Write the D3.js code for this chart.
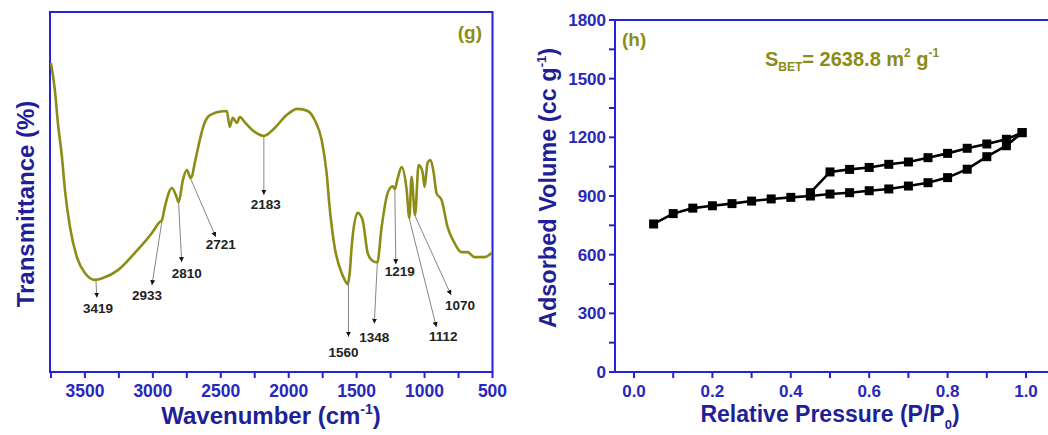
<!DOCTYPE html>
<html>
<head>
<meta charset="utf-8">
<script src="https://cdn.jsdelivr.net/npm/d3@7/dist/d3.min.js"></script>
<style>
  body { margin: 0; background: #fff; }
  svg text { font-family: "Liberation Sans", Arial, sans-serif; font-weight: bold; }
</style>
</head>
<body>
<svg id="chart" width="1048" height="435"></svg>
<script>
// (g) FTIR spectrum
const ftirWavenumber = [3750, 3721, 3699, 3669, 3647, 3610, 3559, 3500, 3426, 3368, 3257, 3132, 3007, 2949, 2933,
  2912, 2860, 2831, 2810, 2779, 2750, 2721, 2684, 2654, 2630, 2596, 2559, 2522, 2456, 2434, 2412, 2382, 2360,
  2324, 2250, 2183, 2103, 2015, 1934, 1860, 1809, 1757, 1721, 1699, 1662, 1610, 1588, 1566, 1551, 1537, 1493,
  1456, 1419, 1390, 1348, 1316, 1272, 1235, 1219, 1200, 1169, 1132, 1112, 1096, 1070, 1044, 1015, 1000, 978,
  956, 934, 912, 875, 831, 779, 728, 684, 632, 559, 507];
const ftirTransmittance = [85.8, 78.3, 69.2, 59.7, 50.6, 40.3, 31.9, 27.5, 25.6, 26.1, 28.3, 33.1, 38.6, 41.7, 42.2,
  45.8, 51.1, 49.2, 47.2, 53.3, 56.1, 53.9, 59.4, 64.5, 68.0, 70.8, 71.7, 72.2, 72.5, 68.1, 70.6, 69.2, 70.8,
  69.4, 66.7, 65.6, 67.8, 71.4, 73.1, 72.5, 70.0, 64.4, 55.3, 45.8, 34.7, 27.5, 25.6, 24.4, 27.5, 34.7, 44.2,
  42.2, 33.1, 31.1, 30.4, 40.3, 49.7, 51.6, 50.8, 53.5, 56.9, 50.6, 42.8, 54.2, 43.6, 57.5, 55.6, 51.4, 58.1,
  58.9, 55.6, 49.7, 47.8, 40.3, 35.8, 33.3, 33.3, 31.9, 31.9, 33.1];
const ftirTicks = [3500, 3000, 2500, 2000, 1500, 1000, 500];
const peakLabels = [3419, 2933, 2810, 2721, 2183, 1560, 1348, 1219, 1112, 1070];

// (h) N2 isotherm
const adsPressure = [0.05, 0.10, 0.15, 0.20, 0.25, 0.30, 0.35, 0.40, 0.45, 0.50, 0.55, 0.60, 0.65, 0.70,
  0.75, 0.80, 0.85, 0.90, 0.95, 0.99];
const adsVolume = [757, 810, 838, 850, 861, 874, 885, 893, 900, 910, 917, 927, 936, 951, 968, 994, 1037, 1101, 1157, 1224];
const desPressure = [0.99, 0.95, 0.90, 0.85, 0.80, 0.75, 0.70, 0.65, 0.60, 0.55, 0.50, 0.45];
const desVolume = [1224, 1190, 1166, 1144, 1118, 1096, 1074, 1062, 1046, 1036, 1023, 917];
const betXTicks = [0.0, 0.2, 0.4, 0.6, 0.8, 1.0];
const betYTicks = [0, 300, 600, 900, 1200, 1500, 1800];

const frameBlue = "#2323d9", tickBlue = "#2828bb", titleBlue = "#1f1f98", olive = "#8c8c16";

const svg = d3.select("#chart");

svg.append("defs").append("marker")
  .attr("id", "arrow")
  .attr("viewBox", "0 0 10 10")
  .attr("refX", 10).attr("refY", 5)
  .attr("markerWidth", 5).attr("markerHeight", 7)
  .attr("markerUnits", "userSpaceOnUse")
  .attr("orient", "auto")
  .append("path").attr("d", "M0,0 L10,5 L0,10 z").attr("fill", "#111");

// outward ticks on a bottom axis every minorStep
const drawBottomTicks = (g, x, y0, minorStep, domain) => {
  const lo = Math.min(...domain), hi = Math.max(...domain);
  const minors = d3.range(Math.ceil(lo / minorStep) * minorStep, hi + 1e-9, minorStep);
  g.selectAll(null).data(minors).enter().append("line")
    .attr("x1", d => x(d)).attr("x2", d => x(d))
    .attr("y1", y0).attr("y2", y0 + 6)
    .attr("stroke", frameBlue).attr("stroke-width", 2);
};

/* ---------------- (g) ---------------- */
const gx = d3.scaleLinear().domain([3757, 500]).range([50, 492.5]);
const gy = d3.scaleLinear().domain([0, 100]).range([372, 12]);
const gLeft = svg.append("g");

gLeft.append("rect")
  .attr("x", 50).attr("y", 12).attr("width", 442.5).attr("height", 360)
  .attr("fill", "none").attr("stroke", frameBlue).attr("stroke-width", 2);

drawBottomTicks(gLeft, gx, 372, 250, [3750, 500]);

gLeft.selectAll(".xlab").data(ftirTicks).enter().append("text")
  .attr("x", d => gx(d)).attr("y", 397)
  .attr("text-anchor", "middle").attr("font-size", 17.5).attr("fill", tickBlue)
  .text(d => d);

const ftir = ftirWavenumber.map((w, i) => ({ w, t: ftirTransmittance[i] }));
gLeft.append("path")
  .datum(ftir)
  .attr("fill", "none").attr("stroke", olive).attr("stroke-width", 2.6)
  .attr("stroke-linejoin", "round")
  .attr("d", d3.line().x(d => gx(d.w)).y(d => gy(d.t)).curve(d3.curveMonotoneX));

// transmittance at a given wavenumber (linear interpolation on the trace)
const tAt = w => {
  for (let i = 0; i < ftir.length - 1; i++) {
    const a = ftir[i], b = ftir[i + 1];
    if (w <= a.w && w >= b.w) return a.t + (b.t - a.t) * (a.w - w) / (a.w - b.w);
  }
  return ftir[ftir.length - 1].t;
};

// arrow tip offset from the curve, label baseline offset from the tip (px)
const peakLayout = {
  3419: [1, 18, 1, 15], 2933: [-10, 65, -5, 15], 2810: [3, 60, 5, 16], 2721: [25, 59, 5, 12],
  2183: [0, 59, 2, 14], 1560: [0, 57, -5, 20], 1348: [-3, 61, 0, 18], 1219: [1, 75, 4, 12],
  1112: [27, 109, 7, 14], 1070: [36, 80, 9, 15]
};

peakLabels.forEach(p => {
  const px = gx(p), py = gy(tAt(p));
  const [dx, dy, lx, ly] = peakLayout[p];
  gLeft.append("line")
    .attr("x1", px).attr("y1", py + 1)
    .attr("x2", px + dx).attr("y2", py + dy)
    .attr("stroke", "#777").attr("stroke-width", 0.9)
    .attr("marker-end", "url(#arrow)");
  gLeft.append("text")
    .attr("x", px + dx + lx).attr("y", py + dy + ly)
    .attr("text-anchor", "middle").attr("font-size", 13.5).attr("fill", "#222")
    .text(p);
});

gLeft.append("text")
  .attr("x", 482).attr("y", 39).attr("text-anchor", "end")
  .attr("font-size", 19).attr("fill", olive).text("(g)");

const wTitle = gLeft.append("text")
  .attr("x", 271).attr("y", 424).attr("text-anchor", "middle")
  .attr("font-size", 24).attr("fill", titleBlue);
wTitle.append("tspan").text("Wavenumber (cm");
wTitle.append("tspan").attr("dy", -10).attr("font-size", 14).text("-1");
wTitle.append("tspan").attr("dy", 10).text(")");

gLeft.append("text")
  .attr("transform", "translate(34,204) rotate(-90)")
  .attr("text-anchor", "middle").attr("font-size", 24).attr("fill", titleBlue)
  .text("Transmittance (%)");

/* ---------------- (h) ---------------- */
const hx = d3.scaleLinear().domain([0, 1]).range([634, 1026]);
const hy = d3.scaleLinear().domain([0, 1800]).range([372, 20]);
const gRight = svg.append("g");
const hLeft = 615, hRight = 1056;

gRight.append("path")
  .attr("d", `M${hRight},20 H${hLeft} V372 H${hRight}`)
  .attr("fill", "none").attr("stroke", frameBlue).attr("stroke-width", 2);

drawBottomTicks(gRight, hx, 372, 0.1, [0, 1.0]);

const yMinors = d3.range(0, 1801, 150);
gRight.selectAll(".ytick").data(yMinors).enter().append("line")
  .attr("x1", hLeft - 6).attr("x2", hLeft)
  .attr("y1", d => hy(d)).attr("y2", d => hy(d))
  .attr("stroke", frameBlue).attr("stroke-width", 2);

gRight.selectAll(".hxlab").data(betXTicks).enter().append("text")
  .attr("x", d => hx(d)).attr("y", 397)
  .attr("text-anchor", "middle").attr("font-size", 17).attr("fill", tickBlue)
  .text(d => d3.format(".1f")(d));

gRight.selectAll(".hylab").data(betYTicks).enter().append("text")
  .attr("x", hLeft - 9).attr("y", d => hy(d) + 6)
  .attr("text-anchor", "end").attr("font-size", 17).attr("fill", tickBlue)
  .text(d => d);

const ads = adsPressure.map((p, i) => ({ p, v: adsVolume[i] }));
const des = desPressure.map((p, i) => ({ p, v: desVolume[i] }));
const isoLine = d3.line().x(d => hx(d.p)).y(d => hy(d.v));

[ads, des].forEach(branch => {
  gRight.append("path").datum(branch)
    .attr("fill", "none").attr("stroke", "#000").attr("stroke-width", 2.6)
    .attr("d", isoLine);
  gRight.selectAll(null).data(branch).enter().append("rect")
    .attr("x", d => hx(d.p) - 4.5).attr("y", d => hy(d.v) - 4.5)
    .attr("width", 9).attr("height", 9).attr("fill", "#000");
});

gRight.append("text")
  .attr("x", 622).attr("y", 46).attr("font-size", 19).attr("fill", olive).text("(h)");

const bet = gRight.append("text")
  .attr("x", 765).attr("y", 66).attr("font-size", 20).attr("fill", olive);
bet.append("tspan").text("S");
bet.append("tspan").attr("dy", 5).attr("font-size", 12).text("BET");
bet.append("tspan").attr("dy", -5).text("= 2638.8 m");
bet.append("tspan").attr("dy", -9).attr("font-size", 12).text("2");
bet.append("tspan").attr("dy", 9).text(" g");
bet.append("tspan").attr("dy", -9).attr("font-size", 12).text("-1");

const pTitle = gRight.append("text")
  .attr("x", 830).attr("y", 422).attr("text-anchor", "middle")
  .attr("font-size", 23).attr("fill", titleBlue);
pTitle.append("tspan").text("Relative Pressure (P/P");
pTitle.append("tspan").attr("dy", 7).attr("font-size", 13).text("0");
pTitle.append("tspan").attr("dy", -7).text(")");

const vTitle = gRight.append("text")
  .attr("transform", "translate(556,188) rotate(-90)")
  .attr("text-anchor", "middle").attr("font-size", 23.5).attr("fill", titleBlue);
vTitle.append("tspan").text("Adsorbed Volume (cc g");
vTitle.append("tspan").attr("dy", -10).attr("font-size", 13).text("-1");
vTitle.append("tspan").attr("dy", 10).text(")");
</script>
</body>
</html>
